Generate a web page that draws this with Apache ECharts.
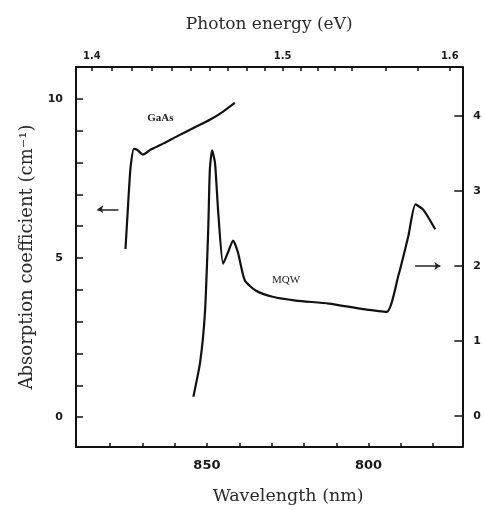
<!DOCTYPE html>
<html>
<head>
<meta charset="utf-8">
<script src="https://cdn.jsdelivr.net/npm/echarts@6/dist/echarts.min.js"></script>
<style>
html,body{margin:0;padding:0;background:#fff;}
#chart{width:484px;height:510px;}
</style>
</head>
<body>
<div id="chart"></div>
<script>
// ---- data ----
const gaasWavelength = [875.2, 874.6, 874.1, 873.6, 872.6, 871.6, 869.8, 867.5, 863.4, 859.3, 854.2, 849.1, 845.0, 841.4];
const gaasAbs        = [5.28,  6.3,   7.16,  7.88,  8.43,  8.40,  8.25,  8.40,  8.60,  8.82,  9.08,  9.34,  9.60,  9.87];

const mqwWavelength = [854.2, 852.1, 850.6, 849.6, 849.1, 848.4, 847.5, 846.5, 845.0, 843.5, 841.9, 840.4, 838.3, 834.8, 829.7, 822.5, 812.3, 802.1, 794.4, 790.8, 787.7, 785.5, 783.1, 779.4];
const mqwAbs        = [0.26,  0.72,  1.39,  2.49,  3.28,  3.54,  3.37,  2.71,  2.03,  2.18,  2.34,  2.18,  1.81,  1.67,  1.59,  1.54,  1.50,  1.43,  1.39,  1.87,  2.40,  2.82,  2.75,  2.49];

const wavelengthTicks = [780, 790, 800, 810, 820, 830, 840, 850, 860, 870, 880];
const wavelengthLabels = [800, 850];
const energyTicks = [1.40, 1.41, 1.42, 1.43, 1.44, 1.45, 1.46, 1.47, 1.48, 1.49, 1.50, 1.51, 1.52, 1.53, 1.54, 1.56, 1.58, 1.60];
const energyLabels = [1.4, 1.5, 1.6];
const leftTicks = [0, 1, 2, 3, 4, 5, 6, 7, 8, 9, 10];
const leftLabels = [0, 5, 10];
const rightTicks = [0, 1, 2, 3, 4];

const labelGaAs = { name: 'GaAs', wavelength: 864.4, value: 9.4 };
const labelMQW  = { name: 'MQW',  wavelength: 825.5, value: 1.81 };
const arrowLeft  = { from: 877.4, to: 883.9, value: 6.53 };
const arrowRight = { from: 785.6, to: 777.8, value: 2.0 };

const HC = 1239.84; // eV*nm

// ---- chart ----
const chart = echarts.init(document.getElementById('chart'), null, { renderer: 'canvas' });
const sans = 'DejaVu Sans';
const serif = 'DejaVu Serif';
const tickFont = { color: '#1a1a1a', fontFamily: sans, fontWeight: 'bold', fontSize: 11 };
const lineAxis = { onZero: false, lineStyle: { color: '#111', width: 2 } };
const tickStyle = { color: '#111', width: 1.5 };

const xRange = { min: 771, max: 890.5 };

chart.setOption({
  backgroundColor: '#fff',
  animation: false,
  grid: { left: 76, right: 19, top: 67, bottom: 61, containLabel: false },
  xAxis: [
    {
      type: 'value', position: 'bottom', inverse: true,
      min: xRange.min, max: xRange.max,
      name: 'Wavelength (nm)', nameLocation: 'middle', nameGap: 40,
      nameTextStyle: { fontFamily: serif, fontSize: 17.5, color: '#2a2a2a', padding: [0, 0, 0, 38] },
      axisLine: lineAxis,
      axisTick: { inside: true, length: 4, lineStyle: tickStyle, customValues: wavelengthTicks },
      axisLabel: Object.assign({}, tickFont, { fontSize: 13, margin: 12, customValues: wavelengthLabels, formatter: v => String(Math.round(v)) }),
      splitLine: { show: false }
    },
    {
      type: 'value', position: 'top', inverse: true,
      min: xRange.min, max: xRange.max,
      name: 'Photon energy (eV)', nameLocation: 'middle', nameGap: 34,
      nameTextStyle: { fontFamily: serif, fontSize: 17, color: '#2a2a2a' },
      axisLine: lineAxis,
      axisTick: { inside: true, length: 4, lineStyle: tickStyle, customValues: energyTicks.map(e => HC / e) },
      axisLabel: Object.assign({}, tickFont, { fontSize: 10, margin: 6, customValues: energyLabels.map(e => HC / e), formatter: v => (HC / v).toFixed(1) }),
      splitLine: { show: false }
    }
  ],
  yAxis: [
    {
      type: 'value', position: 'left', min: -0.94, max: 11,
      name: 'Absorption coefficient (cm\u207B\u00B9)', nameLocation: 'middle', nameGap: 37,
      nameTextStyle: { fontFamily: serif, fontSize: 18, color: '#2a2a2a' },
      axisLine: lineAxis,
      axisTick: { inside: true, length: 7, lineStyle: tickStyle, customValues: leftTicks },
      axisLabel: Object.assign({}, tickFont, { margin: 13, customValues: leftLabels }),
      splitLine: { show: false }
    },
    {
      type: 'value', position: 'right', min: -0.41, max: 4.65,
      axisLine: lineAxis,
      axisTick: { inside: true, length: 8, lineStyle: tickStyle, customValues: rightTicks },
      axisLabel: Object.assign({}, tickFont, { margin: 11, customValues: rightTicks }),
      splitLine: { show: false }
    }
  ],
  series: [
    {
      name: 'GaAs', type: 'line', xAxisIndex: 0, yAxisIndex: 0,
      data: gaasWavelength.map((w, i) => [w, gaasAbs[i]]),
      smooth: 0.2, showSymbol: false, symbol: 'none',
      lineStyle: { color: '#111', width: 2.2 },
      markPoint: {
        symbol: 'circle', symbolSize: 0,
        label: { show: true, position: 'inside', fontFamily: 'Liberation Serif', fontWeight: 'bold', fontSize: 11, color: '#222', formatter: p => p.name },
        data: [{ name: labelGaAs.name, coord: [labelGaAs.wavelength, labelGaAs.value] }]
      },
      markLine: {
        silent: true, symbol: ['none', 'arrow'], symbolSize: 6,
        label: { show: false },
        lineStyle: { color: '#222', width: 1.5, type: 'solid' },
        data: [[{ coord: [arrowLeft.from, arrowLeft.value] }, { coord: [arrowLeft.to, arrowLeft.value] }]]
      }
    },
    {
      name: 'MQW', type: 'line', xAxisIndex: 0, yAxisIndex: 1,
      data: mqwWavelength.map((w, i) => [w, mqwAbs[i]]),
      smooth: 0.2, showSymbol: false, symbol: 'none',
      lineStyle: { color: '#111', width: 2.2 },
      markPoint: {
        symbol: 'circle', symbolSize: 0,
        label: { show: true, position: 'inside', fontFamily: 'Liberation Serif', fontSize: 11, color: '#222', formatter: p => p.name },
        data: [{ name: labelMQW.name, coord: [labelMQW.wavelength, labelMQW.value] }]
      },
      markLine: {
        silent: true, symbol: ['none', 'arrow'], symbolSize: 6,
        label: { show: false },
        lineStyle: { color: '#222', width: 1.5, type: 'solid' },
        data: [[{ coord: [arrowRight.from, arrowRight.value] }, { coord: [arrowRight.to, arrowRight.value] }]]
      }
    }
  ]
});
</script>
</body>
</html>
